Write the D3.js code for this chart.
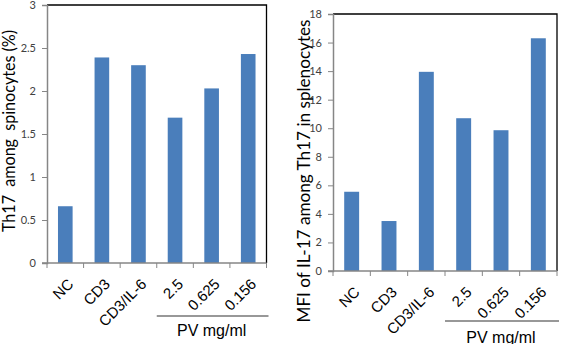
<!DOCTYPE html>
<html>
<head>
<meta charset="utf-8">
<script src="https://cdn.jsdelivr.net/npm/d3@7/dist/d3.min.js"></script>
<style>
  body { margin: 0; background: #fff; }
  svg { display: block; }
  .tick-label { font-family: "Lato", "Noto Sans", sans-serif; font-size: 11px; fill: #404040; }
  .cat-label { font-family: "Liberation Sans", Arial, sans-serif; font-size: 15px; fill: #000; }
  .ylab { font-family: "Lato", "Noto Sans", sans-serif; fill: #000; }
  .pv { font-family: "Liberation Sans", Arial, sans-serif; font-size: 16px; fill: #000; }
</style>
</head>
<body>
<svg id="chart"></svg>
<script>
var categories = ["NC", "CD3", "CD3/IL-6", "2.5", "0.625", "0.156"];
var th17Percent = [0.66, 2.39, 2.30, 1.69, 2.03, 2.43];
var mfiIL17 = [5.55, 3.5, 13.95, 10.7, 9.86, 16.3];
var leftTicks = [0, 0.5, 1, 1.5, 2, 2.5, 3];
var rightTicks = [0, 2, 4, 6, 8, 10, 12, 14, 16, 18];
var pvCategories = ["2.5", "0.625", "0.156"];

var width = 561, height = 344;
var barColor = "#4a7ebb", axisColor = "#868686";

var svg = d3.select("#chart")
  .attr("width", width)
  .attr("height", height);

function drawPanel(opts)
{
  var g = svg.append("g");

  var x = d3.scaleBand()
    .domain(categories)
    .range([opts.left, opts.right])
    .paddingInner(0)
    .paddingOuter(0);

  var y = d3.scaleLinear()
    .domain([0, d3.max(opts.ticks)])
    .range([opts.bottom, opts.top]);

  var barW = x.bandwidth() * 0.4;

  //bars
  g.append("g").selectAll("rect")
    .data(opts.values)
    .enter()
    .append("rect")
    .attr("x", function(d, i){ return x(categories[i]) + (x.bandwidth() - barW) / 2; })
    .attr("y", function(d){ return y(d); })
    .attr("width", barW)
    .attr("height", function(d){ return y(0) - y(d); })
    .attr("fill", barColor);

  //top and right frame
  g.append("path")
    .attr("d", "M" + opts.left + "," + y.range()[1] + "H" + opts.right + "V" + opts.bottom)
    .attr("fill", "none")
    .attr("stroke", "#000")
    .attr("stroke-width", 1.3);

  //Y axis
  var yaxis = d3.axisLeft(y)
    .tickValues(opts.ticks)
    .tickSize(5)
    .tickPadding(6)
    .tickFormat(function(d){ return String(d); });
  var ya = g.append("g")
    .attr("transform", "translate(" + opts.left + ",0)")
    .call(yaxis);
  ya.select(".domain").attr("stroke", axisColor).attr("stroke-width", 1.5);
  ya.selectAll(".tick line").attr("stroke", axisColor);
  ya.selectAll(".tick text").attr("class", "tick-label").attr("fill", null);

  //X axis: ticks at category boundaries
  var xa = g.append("g");
  xa.append("line")
    .attr("x1", opts.left - 5).attr("x2", opts.right)
    .attr("y1", opts.bottom).attr("y2", opts.bottom)
    .attr("stroke", axisColor).attr("stroke-width", 1.5);
  var bounds = categories.map(function(c){ return x(c); }).concat([opts.right]);
  xa.selectAll(".xt")
    .data(bounds)
    .enter()
    .append("line")
    .attr("x1", function(d){ return d; }).attr("x2", function(d){ return d; })
    .attr("y1", opts.bottom).attr("y2", opts.bottom + 5)
    .attr("stroke", axisColor);

  //rotated category labels
  g.selectAll(".cat")
    .data(categories)
    .enter()
    .append("text")
    .attr("class", "cat-label")
    .attr("text-anchor", "end")
    .attr("transform", function(d){
      return "translate(" + (x(d) + x.bandwidth() / 2 + 9) + "," + (opts.bottom + 22) + ") rotate(-45)";
    })
    .text(function(d){ return d; });

  //PV group line + label
  var pvLeft = x(pvCategories[0]);
  g.append("line")
    .attr("x1", pvLeft).attr("x2", opts.right + 2)
    .attr("y1", opts.bottom + opts.pvGap).attr("y2", opts.bottom + opts.pvGap)
    .attr("stroke", "#333").attr("stroke-width", 1.2);
  g.append("text")
    .attr("class", "pv")
    .attr("text-anchor", "middle")
    .attr("x", (pvLeft + opts.right) / 2)
    .attr("y", opts.bottom + opts.pvGap + opts.pvText)
    .text("PV mg/ml");

  //Y label
  g.append("text")
    .attr("class", "ylab")
    .attr("text-anchor", "middle")
    .attr("font-size", opts.labelSize)
    .attr("textLength", opts.labelLen)
    .attr("lengthAdjust", "spacingAndGlyphs")
    .attr("transform", "translate(" + opts.labelX + "," + opts.labelY + ") rotate(-90)")
    .style("white-space", "pre")
    .text(opts.label);
}

drawPanel({
  left: 47, right: 266.5, top: 5, bottom: 263,
  values: th17Percent, ticks: leftTicks,
  pvGap: 53, pvText: 20,
  label: "Th17  among  spinocytes (%)",
  labelX: 15, labelY: 131, labelSize: 17, labelLen: 202
});

drawPanel({
  left: 333, right: 557, top: 14, bottom: 271,
  values: mfiIL17, ticks: rightTicks,
  pvGap: 50, pvText: 22,
  label: "MFI of IL-17 among Th17 in splenocytes",
  labelX: 310, labelY: 171, labelSize: 18, labelLen: 303
});
</script>
</body>
</html>
